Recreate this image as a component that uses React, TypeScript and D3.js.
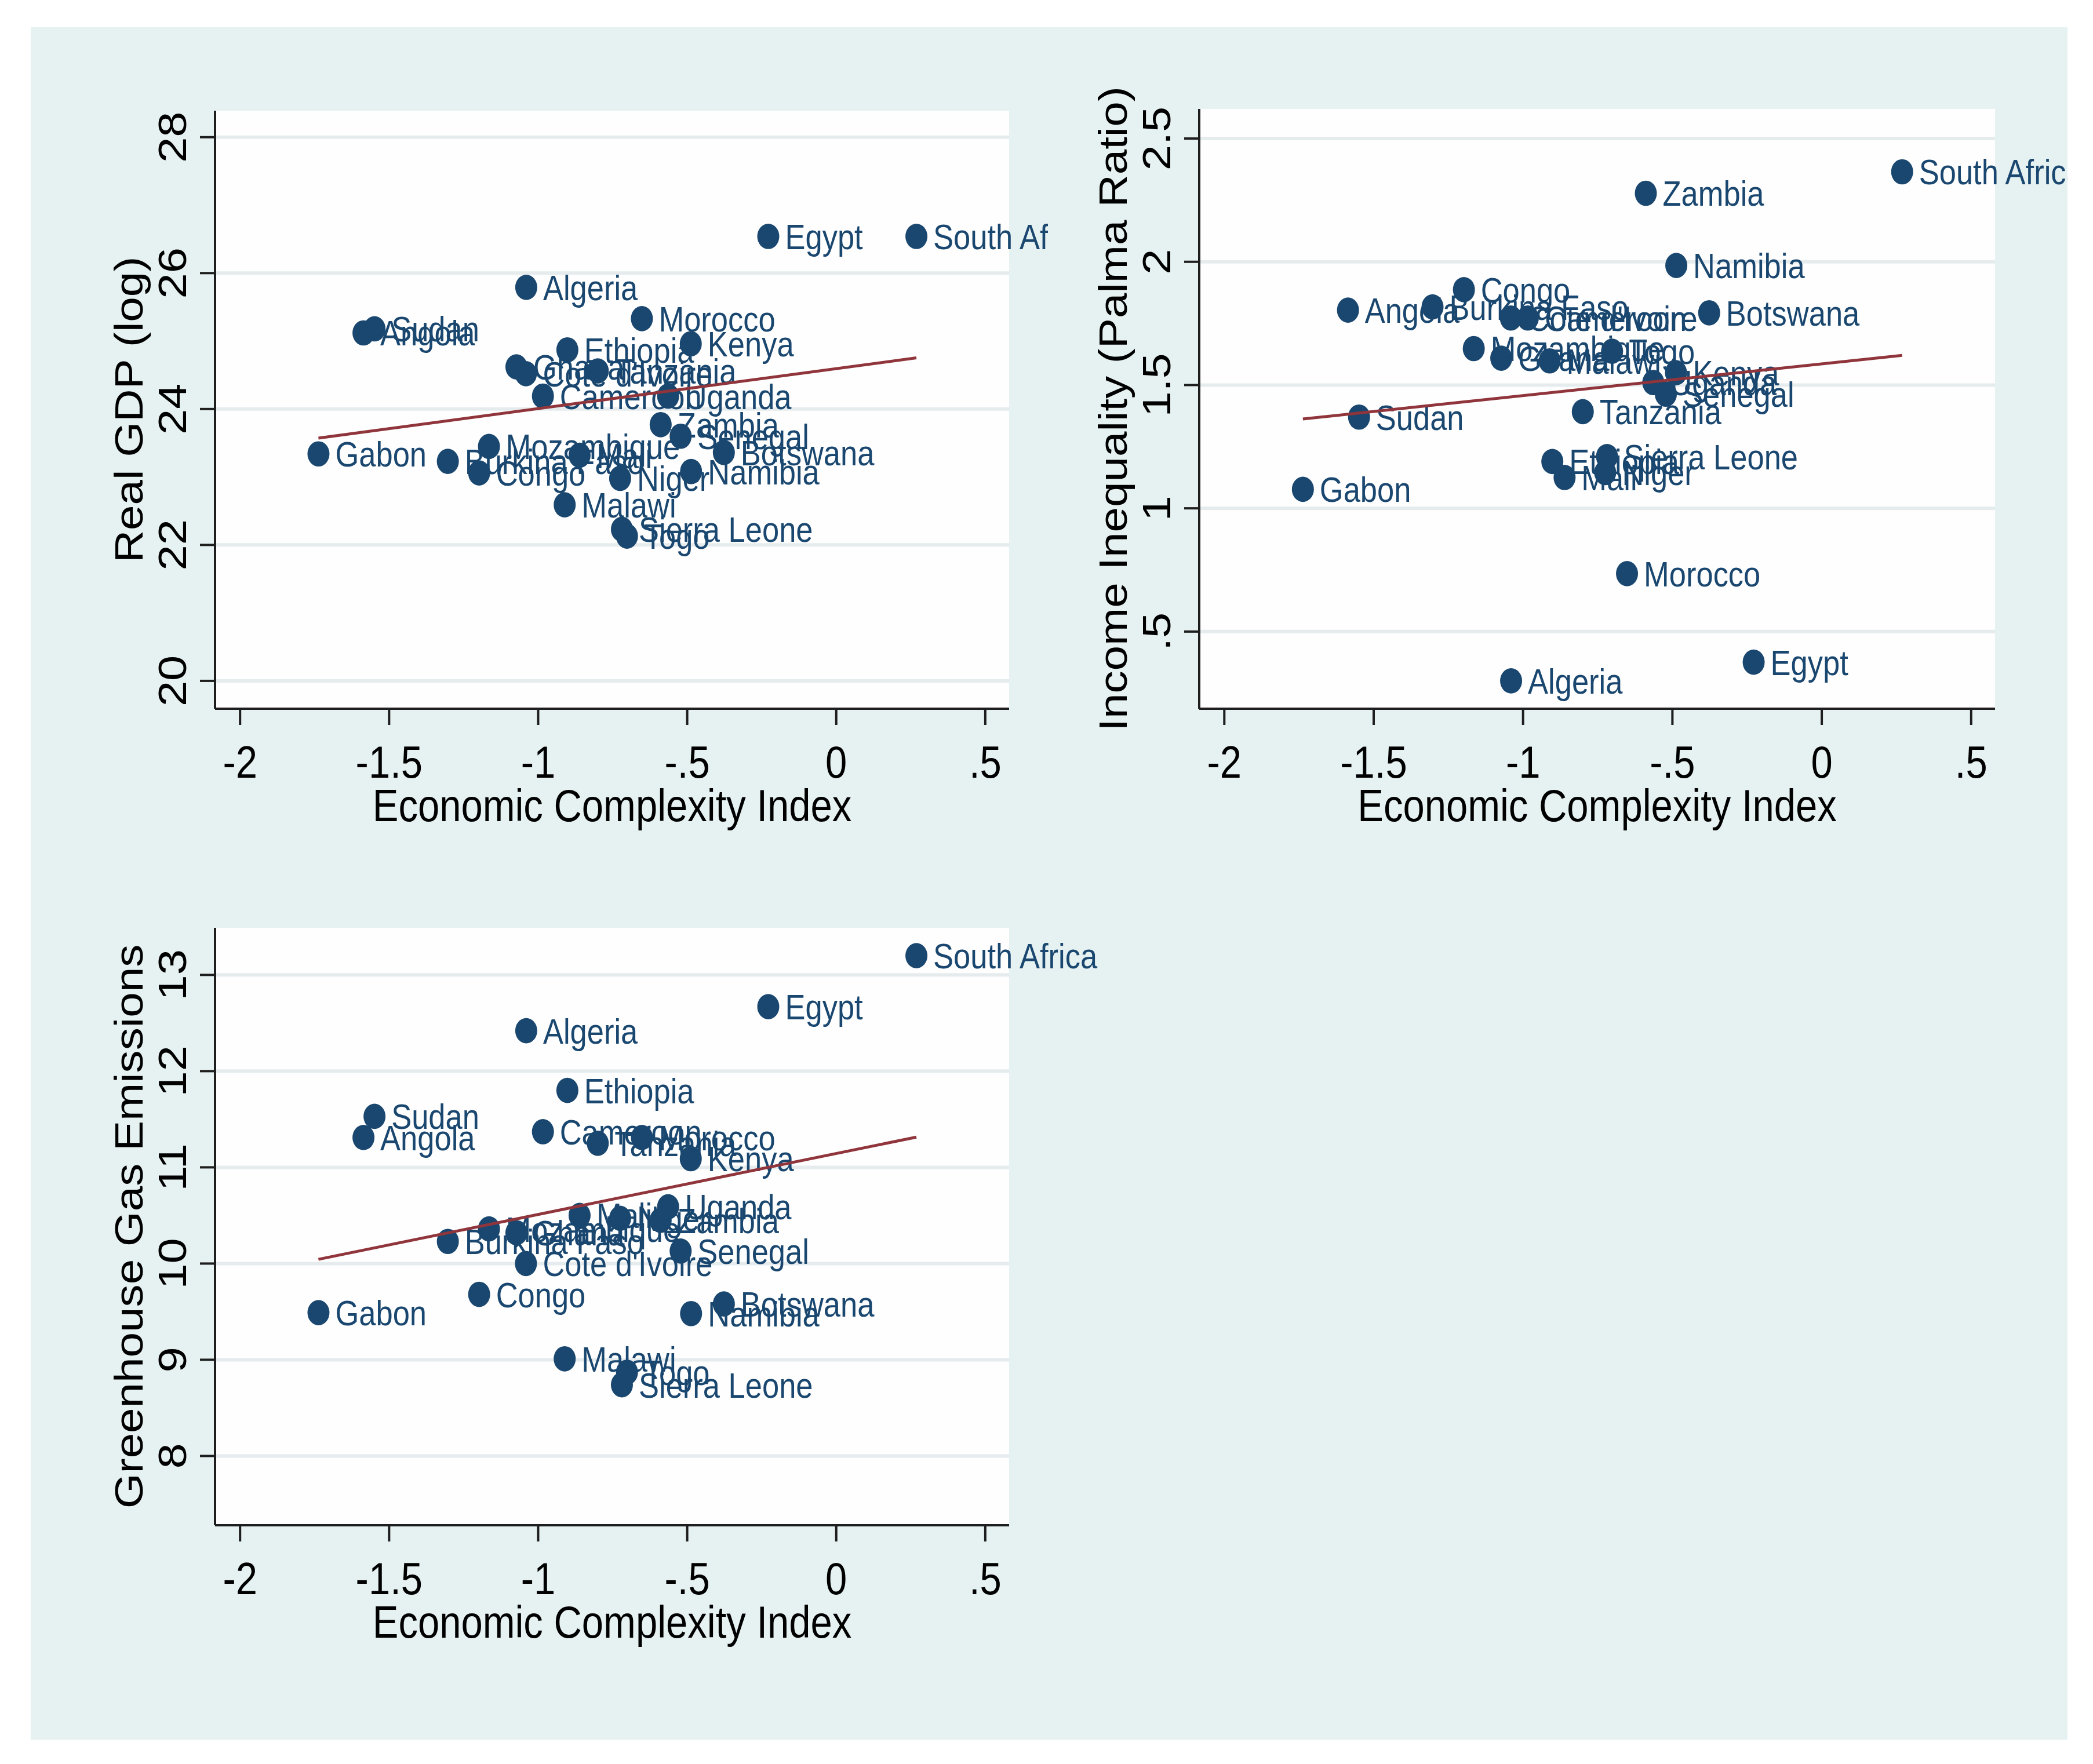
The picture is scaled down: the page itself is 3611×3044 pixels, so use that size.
import React from 'react';
import * as d3 from 'd3';

// African economies: economic complexity vs. output, inequality and emissions
const countries = [
  'Algeria', 'Angola', 'Botswana', 'Burkina Faso', 'Cameroon', 'Congo', "Cote d'Ivoire",
  'Egypt', 'Ethiopia', 'Gabon', 'Ghana', 'Kenya', 'Malawi', 'Mali', 'Morocco',
  'Mozambique', 'Namibia', 'Niger', 'Senegal', 'Sierra Leone', 'South Africa', 'Sudan',
  'Tanzania', 'Togo', 'Uganda', 'Zambia',
];

const eci = [
  -1.04, -1.586, -0.377, -1.303, -0.984, -1.198, -1.041,
  -0.228, -0.902, -1.737, -1.073, -0.488, -0.911, -0.861, -0.652,
  -1.165, -0.487, -0.725, -0.522, -0.719, 0.269, -1.549,
  -0.8, -0.702, -0.564, -0.589,
];

const realGdp = [
  25.79, 25.12, 23.36, 23.23, 24.19, 23.06, 24.52,
  26.54, 24.87, 23.34, 24.62, 24.96, 22.59, 23.32, 25.33,
  23.45, 23.08, 22.98, 23.6, 22.23, 26.54, 25.18,
  24.56, 22.13, 24.19, 23.77,
];

const palmaRatio = [
  0.3, 1.804, 1.793, 1.817, 1.772, 1.887, 1.772,
  0.376, 1.19, 1.077, 1.609, 1.55, 1.598, 1.125, 0.735,
  1.648, 1.985, 1.145, 1.463, 1.21, 2.365, 1.37,
  1.392, 1.637, 1.51, 2.278,
];

const ghgEmissions = [
  12.42, 11.31, 9.58, 10.23, 11.37, 9.68, 10.0,
  12.67, 11.8, 9.49, 10.32, 11.09, 9.01, 10.5, 11.31,
  10.36, 9.48, 10.47, 10.13, 8.74, 13.2, 11.53,
  11.25, 8.87, 10.59, 10.45,
];

const xTicks = [-2, -1.5, -1, -0.5, 0, 0.5];
const xTickLabels = ['-2', '-1.5', '-1', '-.5', '0', '.5'];
const gdpTicks = [20, 22, 24, 26, 28];
const gdpTickLabels = ['20', '22', '24', '26', '28'];
const palmaTicks = [0.5, 1, 1.5, 2, 2.5];
const palmaTickLabels = ['.5', '1', '1.5', '2', '2.5'];
const ghgTicks = [8, 9, 10, 11, 12, 13];
const ghgTickLabels = ['8', '9', '10', '11', '12', '13'];

const NAVY = '#1a476f';
const MAROON = '#90353b';
const GRID = '#e6ecee';
const AXIS = '#1e1e1e';
const FONT = '"Liberation Sans", Arial, Helvetica, sans-serif';
// the graph is taller than it is wide in its own units
const STRETCH = 1.15;

type PanelProps = {
  id: string;
  left: number;
  top: number;
  width: number;
  height: number;
  yDomain: [number, number];
  yValues: number[];
  yTicks: number[];
  yTickLabels: string[];
  yTitle: string;
  clipRight?: number;
};

function HText({ x, y, size, anchor = 'start', fill = '#000', children }: any) {
  return (
    <text
      transform={`translate(${x},${y}) scale(${1 / STRETCH},1)`}
      fontSize={size * STRETCH}
      textAnchor={anchor}
      fill={fill}
      fontFamily={FONT}
    >
      {children}
    </text>
  );
}

function VText({ x, y, size, children }: any) {
  return (
    <text
      transform={`translate(${x},${y}) rotate(-90) scale(${STRETCH},1)`}
      fontSize={size}
      textAnchor="middle"
      fill="#000"
      fontFamily={FONT}
    >
      {children}
    </text>
  );
}

function Panel(p: PanelProps) {
  const right = p.left + p.width;
  const bottom = p.top + p.height;
  const x = d3.scaleLinear().domain([-2.084, 0.58]).range([p.left, right]);
  const y = d3.scaleLinear().domain(p.yDomain).range([bottom, p.top]);

  // least-squares fit over the observed ECI range
  const mx = d3.mean(eci)!;
  const my = d3.mean(p.yValues)!;
  const sxy = d3.sum(eci, (v, i) => (v - mx) * (p.yValues[i] - my));
  const sxx = d3.sum(eci, (v) => (v - mx) ** 2);
  const slope = sxy / sxx;
  const [x0, x1] = d3.extent(eci) as [number, number];
  const fit = d3.line<number>().x((v) => x(v)).y((v) => y(my + slope * (v - mx)));

  const labelSize = 52.5;
  const axisSize = 67;

  return (
    <g clipPath={p.clipRight ? `url(#${p.id}-clip)` : undefined}>
      {p.clipRight && (
        <defs>
          <clipPath id={`${p.id}-clip`}>
            <rect x={0} y={0} width={p.clipRight} height={3044} />
          </clipPath>
        </defs>
      )}
      <rect x={p.left} y={p.top} width={p.width} height={p.height} fill="#fefefe" />
      {p.yTicks.map((t) => (
        <line key={`g${t}`} x1={p.left} x2={right} y1={y(t)} y2={y(t)} stroke={GRID} strokeWidth={6} />
      ))}

      {countries.map((c, i) => (
        <g key={c}>
          <ellipse cx={x(eci[i])} cy={y(p.yValues[i])} rx={19} ry={19 * STRETCH} fill={NAVY} />
          <HText x={x(eci[i]) + 29} y={y(p.yValues[i]) + 22} size={labelSize} fill={NAVY}>
            {c}
          </HText>
        </g>
      ))}

      <path d={fit([x0, x1])!} fill="none" stroke={MAROON} strokeWidth={5} />

      {/* axes */}
      <line x1={p.left} x2={p.left} y1={p.top} y2={bottom} stroke={AXIS} strokeWidth={4} />
      <line x1={p.left} x2={right} y1={bottom} y2={bottom} stroke={AXIS} strokeWidth={4} />
      {xTicks.map((t, i) => (
        <g key={`x${t}`}>
          <line x1={x(t)} x2={x(t)} y1={bottom} y2={bottom + 28} stroke={AXIS} strokeWidth={4} />
          <HText x={x(t)} y={bottom + 119} size={axisSize} anchor="middle">
            {xTickLabels[i]}
          </HText>
        </g>
      ))}
      <HText x={(p.left + right) / 2} y={bottom + 194} size={axisSize} anchor="middle">
        Economic Complexity Index
      </HText>

      {p.yTicks.map((t, i) => (
        <g key={`y${t}`}>
          <line x1={p.left - 26} x2={p.left} y1={y(t)} y2={y(t)} stroke={AXIS} strokeWidth={4} />
          <VText x={p.left - 50} y={y(t)} size={69}>
            {p.yTickLabels[i]}
          </VText>
        </g>
      ))}
      <VText x={p.left - 125} y={(p.top + bottom) / 2} size={68}>
        {p.yTitle}
      </VText>
    </g>
  );
}

export default function App() {
  return (
    <svg
      width={3611}
      height={3044}
      style={{ position: 'absolute', left: 0, top: 0, background: '#fff' }}
    >
      <rect x={53} y={47} width={3514} height={2955} fill="#e6f1f1" />
      <Panel
        id="gdp"
        left={371}
        top={191}
        width={1370}
        height={1032}
        yDomain={[19.59, 28.39]}
        yValues={realGdp}
        yTicks={gdpTicks}
        yTickLabels={gdpTickLabels}
        yTitle="Real GDP (log)"
        clipRight={1808}
      />
      <Panel
        id="palma"
        left={2069}
        top={188}
        width={1373}
        height={1035}
        yDomain={[0.187, 2.62]}
        yValues={palmaRatio}
        yTicks={palmaTicks}
        yTickLabels={palmaTickLabels}
        yTitle="Income Inequality (Palma Ratio)"
        clipRight={3567}
      />
      <Panel
        id="ghg"
        left={371}
        top={1601}
        width={1370}
        height={1031}
        yDomain={[7.28, 13.49]}
        yValues={ghgEmissions}
        yTicks={ghgTicks}
        yTickLabels={ghgTickLabels}
        yTitle="Greenhouse Gas Emissions"
      />
    </svg>
  );
}
